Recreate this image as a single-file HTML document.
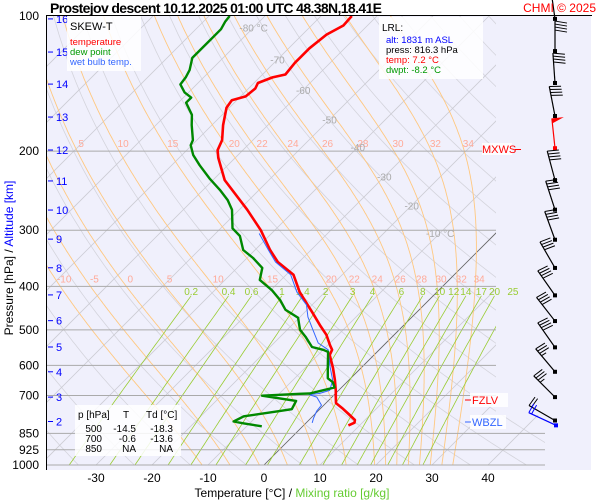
<!DOCTYPE html>
<html><head><meta charset="utf-8"><style>
body{margin:0;background:#fff}
svg{display:block;font-family:"Liberation Sans",sans-serif}
</style></head><body>
<svg id="c" width="600" height="500" viewBox="0 0 600 500">
<defs><clipPath id="pc"><polygon points="46,16 496,16 496,415 545,415 545,465 46,465"/></clipPath></defs>
<rect x="46" y="16" width="545" height="454" fill="#f0f0fc"/>
<g id="grid" clip-path="url(#pc)"></g>
<g id="labels"></g>
<g id="profiles" clip-path="url(#pc)"></g>
<g id="barbs"></g>
<line x1="46" y1="15.5" x2="592" y2="15.5" stroke="#000"/>
<line x1="46.5" y1="16" x2="46.5" y2="470" stroke="#000"/>
<text x="50" y="13" font-size="14" font-weight="bold" textLength="332">Prostejov   descent   10.12.2025 01:00 UTC   48.38N,18.41E</text>
<text x="596" y="12" font-size="12" fill="#f00" text-anchor="end">CHMI © 2025</text>
<g>
<rect x="67" y="16" width="74" height="55" fill="#fff" opacity="0.85"/>
<text x="70" y="30" font-size="11">SKEW-T</text>
<text x="70" y="45" font-size="9.5" fill="#f00">temperature</text>
<text x="70" y="55" font-size="9.5" fill="#090">dew point</text>
<text x="70" y="65" font-size="9.5" fill="#36f">wet bulb temp.</text>
</g>
<g>
<rect x="379" y="17" width="104" height="62" fill="#fff" opacity="0.85"/>
<text x="382" y="31" font-size="10">LRL:</text>
<text x="386" y="43" font-size="9.5" fill="#00f">alt: 1831 m ASL</text>
<text x="386" y="53" font-size="9.5">press: 816.3 hPa</text>
<text x="386" y="63" font-size="9.5" fill="#f00">temp: 7.2 °C</text>
<text x="386" y="73" font-size="9.5" fill="#090">dwpt: -8.2 °C</text>
</g>
<g font-size="10">
<rect x="75" y="405" width="106" height="51" fill="#fff" opacity="0.85"/>
<text x="78" y="418">p [hPa]</text><text x="123" y="418">T</text><text x="146" y="418">Td [°C]</text>
<text x="102" y="432" text-anchor="end">500</text><text x="136" y="432" text-anchor="end">-14.5</text><text x="173" y="432" text-anchor="end">-18.3</text>
<text x="102" y="442" text-anchor="end">700</text><text x="136" y="442" text-anchor="end">-0.6</text><text x="173" y="442" text-anchor="end">-13.6</text>
<text x="102" y="452" text-anchor="end">850</text><text x="136" y="452" text-anchor="end">NA</text><text x="173" y="452" text-anchor="end">NA</text>
</g>
<g>
<rect x="470" y="393" width="38" height="14" fill="#fff" opacity="0.85"/>
<line x1="465" y1="400" x2="471" y2="400" stroke="#f00"/>
<text x="472" y="404" font-size="11" fill="#f00">FZLV</text>
</g>
<g>
<rect x="470" y="415" width="36" height="14" fill="#fff" opacity="0.85"/>
<line x1="465" y1="422" x2="471" y2="422" stroke="#36f"/>
<text x="472" y="426" font-size="11" fill="#36f">WBZL</text>
</g>
<g>
<rect x="482" y="143" width="30" height="12" fill="#fff" opacity="0.85"/>
<text x="482" y="153" font-size="11" fill="#f00">MXWS</text>
<line x1="515" y1="149.5" x2="521" y2="149.5" stroke="#f00"/>
</g>
<text transform="translate(13,258) rotate(-90)" font-size="12" text-anchor="middle"><tspan>Pressure [hPa]  /  </tspan><tspan fill="#00f">Altitude [km]</tspan></text>
<text x="292" y="497" font-size="12" text-anchor="middle"><tspan>Temperature [°C]  /  </tspan><tspan fill="#6c3">Mixing ratio [g/kg]</tspan></text>
</svg>
<script>
const isobarP=[200,300,400,500,600,700,850,925,1000];
const pLabels=[100,200,300,400,500,600,700,850,925,1000];
const xTicks=[-30,-20,-10,0,10,20,30,40];
const altKm=[16,15,14,13,12,11,10,9,8,7,6,5,4,3,2];
const altP=[101.5,120.3,141.8,167.9,198.8,233,270.5,314,363.7,418,477,546,620,706,800];
const isoT=[-120,-110,-100,-90,-80,-70,-60,-50,-40,-30,-20,-10,0,10,20,30,40];
const isoLabelT=[-80,-70,-60,-50,-40,-30,-20,-10];
const isoLabelP=[106,125,146,170,196,228,264,304];
const dryTheta=[200,210,220,230,240,250,260,270,280,290,300,310,320,330,340,350,360,370,380,390,400,410,420,430,440,450,460,470,480,490,500];
const moistLabels=[-10,-5,0,5,10,15,20,22,24,26,28,30,32,34];
const moistT400=[-68.3,-62.9,-56.5,-49.5,-40.8,-31.1,-20.6,-16.5,-12.4,-8.3,-4.5,-1.0,2.6,5.8];
const mixW=[0.2,0.4,0.6,1,1.4,2,3,4,6,8,10,12,14,17,20,25];
const tempP=[816,805,794,770,750,728,706,684,647,608,569,554,541,513,488,459,412,377,353,332,300,270,232,207,199,189,175,160,154,151,145,141,137,135,127,124,118,110,105,100];
const tempT=[8.0,8.6,8.2,6.0,4.1,1.8,0.7,-0.4,-2.5,-5,-7.9,-8.4,-9.6,-12.1,-15,-18.4,-24.5,-28.7,-33.8,-37.3,-42.5,-48.6,-57.9,-63,-64.5,-65.5,-68,-70.5,-70.9,-69.1,-68.8,-69.3,-67.7,-65.9,-66.3,-66.3,-66.3,-65.7,-64.3,-64.5];
const dewP=[820,808,800,779,759,751,720,701,694,693,682,672,654,641,605,560,554,546,518,500,470,451,429,408,387,364,346,332,309,297,270,257,244,230,215,204,194,189,175,166,156,152,148,142,137,132,124,119,114,107,103,100];
const dewT=[-7.3,-11,-13.2,-12.3,-7,-5,-5.7,-12.7,-6.4,-4.6,-2.9,-1.25,-2.5,-4.1,-6.1,-8.75,-10,-12.5,-15.5,-17.7,-20.2,-23.9,-26.6,-29.8,-33.8,-35.5,-38.9,-42.1,-45.2,-47.9,-51.3,-53.8,-57,-60.9,-65,-68,-70.2,-70.7,-73.6,-75.4,-78.6,-78.6,-80.7,-82.9,-83.2,-83.8,-85.5,-85.5,-85.5,-85.5,-86.1,-86.3];
const wetP=[806,787,759,736,706,697,693,682,647,605,554,535,500,468,440,412,377,353,332,305];
const wetT=[1.1,0.5,-0.2,-0.4,-2.7,-4.5,-2.9,-1.6,-2.9,-5.7,-9.1,-12.1,-15.4,-18.6,-21.0,-25.0,-29.2,-34.2,-37.6,-42.2];
const barbP=[101.5,119.7,141,167,197,232,270,315,364,419,478,547,620,706,796];
const barbDir=[352,360,356,349,354,345,342,340,330,325,322,325,320,315,300];
const barbSpd=[40,40,40,40,50,40,40,40,40,40,40,40,35,35,20];
const sfcP=[816];const sfcDir=[295];const sfcSpd=[20];

const NS='http://www.w3.org/2000/svg';
function yP(p){return 16+195*Math.log(p/100);}
function xT(t,p){return 264+5.6*t+(465-yP(p));}
function mk(tag,parent,attrs){const e=document.createElementNS(NS,tag);for(const k in attrs)e.setAttribute(k,attrs[k]);parent.appendChild(e);return e;}
const grid=document.getElementById('grid'),labels=document.getElementById('labels'),prof=document.getElementById('profiles'),barbs=document.getElementById('barbs');
function pathFrom(pts){return 'M'+pts.map(q=>q[0].toFixed(1)+','+q[1].toFixed(1)).join('L');}

dryTheta.forEach(th=>{const pts=[];for(let p=100;p<=1050;p+=10){pts.push([xT(th*Math.pow(p/1000,0.2857)-273.15,p),yP(p)]);}
const e=mk('path',grid,{d:pathFrom(pts),fill:'none',stroke:'#d4d4dc','stroke-width':0.8});

});
isoT.forEach(t=>{const e=mk('line',grid,{x1:xT(t,100),y1:yP(100),x2:xT(t,1050),y2:yP(1050),stroke:'#ccccd4','stroke-width':0.8});

});
{const e=mk('line',grid,{x1:xT(0,1000),y1:yP(1000),x2:xT(0,300),y2:yP(300),stroke:'#666','stroke-width':0.8});

}
function es(t){return 6.112*Math.exp(17.67*t/(t+243.5));}
function dTdp(T,p){const tc=T-273.15;const e=es(tc);const rs=0.622*e/Math.max(p-e,1);const Lv=2.5e6,Rd=287,cp=1004;return (Rd*T+Lv*rs)/(p*(cp+Lv*Lv*rs*0.622/(Rd*T*T)));}
moistT400.forEach((t0,i)=>{const up=[],dn=[];let T=t0+273.15;for(let p=400;p>=100;p-=2){up.push([xT(T-273.15,p),yP(p)]);T-=2*dTdp(T,p);}
T=t0+273.15;for(let p=400;p<=1050;p+=2){dn.push([xT(T-273.15,p),yP(p)]);T+=2*dTdp(T,p);}
const t200=up.find(q=>Math.abs(q[1]-yP(200))<1.2);
const pts=up.slice().reverse().concat(dn);
const e=mk('path',grid,{d:pathFrom(pts),fill:'none',stroke:'#ffc880','stroke-width':0.9});


const l1=mk('text',labels,{x:xT(t0,400)+4,y:yP(400)-4,'font-size':10,fill:'#fa9','text-anchor':'middle'});l1.textContent=moistLabels[i];


if(i>=2&&t200&&t200[0]>48){const l2=mk('text',labels,{x:Math.max(t200[0]+4,52),y:yP(200)-4,'font-size':10,fill:'#fa9','text-anchor':'middle'});l2.textContent=moistLabels[i];

}});
mixW.forEach(w=>{const pts=[];for(let p=420;p<=1050;p+=10){const e=w*p/(622+w);const L=Math.log(e/6.112);const td=243.5*L/(17.67-L);pts.push([xT(td,p),yP(p)]);}
const e=mk('path',grid,{d:pathFrom(pts),fill:'none',stroke:'#9c3','stroke-width':0.8});


const l=mk('text',labels,{x:pts[0][0],y:yP(420)-1,'font-size':10,fill:'#9c3','text-anchor':'middle'});l.textContent=w;

});
isobarP.forEach(p=>{const e=mk('line',labels,{x1:46,y1:yP(p),x2:p>=850?545:496,y2:yP(p),stroke:'#aaa','stroke-width':1});

});
isoLabelT.forEach((t,i)=>{const l=mk('text',labels,{x:xT(t,isoLabelP[i]),y:yP(isoLabelP[i])+4,'font-size':10,fill:'#aaa','text-anchor':'middle'});l.textContent=t+((t==-80||t==-10)?' °C':'');

});
pLabels.forEach(p=>{const l=mk('text',labels,{x:39,y:yP(p)+4,'font-size':12,'text-anchor':'end'});l.textContent=p;

});
xTicks.forEach(t=>{const l=mk('text',labels,{x:xT(t,1000),y:482,'font-size':12,'text-anchor':'middle'});l.textContent=t;

});
altKm.forEach((k,i)=>{const y=yP(altP[i]);mk('line',labels,{x1:48,y1:y,x2:53,y2:y,stroke:'#00f'});
const l=mk('text',labels,{x:56,y:y+4,'font-size':11,fill:'#00f'});l.textContent=k;

});
function line(P,T,col,w,name){const pts=P.map((p,i)=>[xT(T[i],p),yP(p)]);const e=mk('path',prof,{d:pathFrom(pts),fill:'none',stroke:col,'stroke-width':w,'stroke-linejoin':'round'});

}
line(tempP,tempT,'#f00',2.6,'temperature-line');
line(wetP,wetT,'#36f',1,'wet-bulb-line');
line(dewP,dewT,'#080',2.4,'dew-point-line');
function barb(p,dir,spd,col,name,x0){const y0=yP(p);const a=(360-dir)*Math.PI/180;const L=30;const ux=-Math.sin(a),uy=-Math.cos(a);const tx=x0+ux*L,ty=y0+uy*L;
const g=mk('g',barbs,{});


mk('line',g,{x1:x0,y1:y0,x2:tx,y2:ty,stroke:col,'stroke-width':1.2});
mk('rect',g,{x:x0-2,y:y0-2,width:4,height:4,fill:col});
const fx=Math.cos(a)*12,fy=-Math.sin(a)*12+2;let s=spd,k=0;
if(s>=50){mk('polygon',g,{points:`${tx},${ty} ${tx+fx},${ty+fy-2} ${tx-ux*5},${ty-uy*5}`,fill:col});s-=50;k+=2;}
while(s>=10){const bx=tx-ux*3*k,by=ty-uy*3*k;mk('line',g,{x1:bx,y1:by,x2:bx+fx,y2:by+fy,stroke:col,'stroke-width':1});s-=10;k++;}
if(s>=5){const bx=tx-ux*3*k,by=ty-uy*3*k;mk('line',g,{x1:bx,y1:by,x2:bx+fx/2,y2:by+fy/2,stroke:col,'stroke-width':1});}}
barbP.forEach((p,i)=>barb(p,barbDir[i],barbSpd[i],barbSpd[i]>=50?'#f00':'#000','wind-barb',555));
sfcP.forEach((p,i)=>barb(p,sfcDir[i],sfcSpd[i],'#00f','surface-wind-barb',556));
</script>
</body></html>
